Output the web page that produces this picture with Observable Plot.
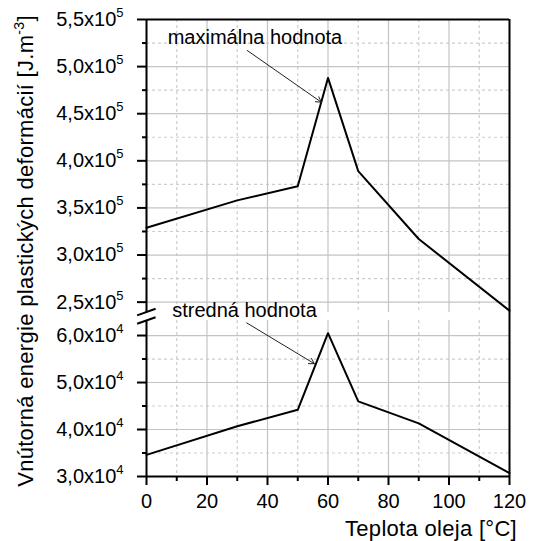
<!DOCTYPE html>
<html><head><meta charset="utf-8">
<script src="https://cdn.jsdelivr.net/npm/d3@7"></script>
<script src="https://cdn.jsdelivr.net/npm/@observablehq/plot@0.6"></script>
<style>
body{margin:0;background:#fff;}
#wrap{position:relative;width:538px;height:541px;font-family:"Liberation Sans",Arial,sans-serif;color:#000;}
.layer{position:absolute;left:0;width:538px;}
.layer svg{position:absolute;left:0;top:0;display:block;}
#ytitle{position:absolute;left:27px;top:251px;transform:translate(-50%,-50%) rotate(-90deg);white-space:nowrap;font-size:22px;line-height:22px;letter-spacing:0.3px;}
#ytitle sup{font-size:14px;vertical-align:0;position:relative;top:-9px;}
#xtitle{position:absolute;right:21px;top:518px;font-size:22px;line-height:22px;letter-spacing:0.3px;white-space:nowrap;}
</style></head>
<body><div id="wrap">
<div class="layer" id="topLayer" style="top:0;height:312px"></div>
<div class="layer" id="botLayer" style="top:312px;height:229px"></div>
<div id="ytitle">Vnútorná energie plastických deformácií [J.m<sup>-3</sup>]</div>
<div id="xtitle">Teplota oleja [°C]</div>
</div>
<script>
// ---- data ----
const temperature = [0, 30, 50, 60, 70, 90, 120];
const maxValue = [3.29e5, 3.58e5, 3.73e5, 4.88e5, 3.89e5, 3.17e5, 2.41e5];
const meanValue = [3.46e4, 4.07e4, 4.42e4, 6.05e4, 4.60e4, 4.13e4, 3.07e4];

const xTicks = [0, 20, 40, 60, 80, 100, 120];
const xTickLabels = ["0", "20", "40", "60", "80", "100", "120"];
const xMinorTicks = [10, 30, 50, 70, 90, 110];

const topTicks = [2.5e5, 3.0e5, 3.5e5, 4.0e5, 4.5e5, 5.0e5, 5.5e5];
const topTickLabels = ["2,5x10^5", "3,0x10^5", "3,5x10^5", "4,0x10^5", "4,5x10^5", "5,0x10^5", "5,5x10^5"];
const topMinorTicks = [2.75e5, 3.25e5, 3.75e5, 4.25e5, 4.75e5, 5.25e5];

const botTicks = [3.0e4, 4.0e4, 5.0e4, 6.0e4];
const botTickLabels = ["3,0x10^4", "4,0x10^4", "5,0x10^4", "6,0x10^4"];
const botMinorTicks = [3.5e4, 4.5e4, 5.5e4];

const maxRows = temperature.map((t, i) => ({t, v: maxValue[i]}));
const meanRows = temperature.map((t, i) => ({t, v: meanValue[i]}));

const FONT = '"Liberation Sans", Arial, sans-serif';
const GRID = "#c4c4c4";
const MINOR = "#cdcdcd";
const DASH = "3,3";
const noLabel = () => "";

const topFrame = {width: 538, height: 312, marginTop: 19, marginBottom: 0, marginLeft: 146, marginRight: 29};
const botFrame = {width: 538, height: 229, marginTop: 8, marginBottom: 65, marginLeft: 146, marginRight: 29};
const topY = {domain: [2.39e5, 5.5e5]};
const botY = {domain: [3.0e4, 6.32e4]};
const svgStyle = {fontFamily: FONT, fontSize: "20px", background: "transparent", overflow: "visible", color: "#000"};

function supify(svg) {
  svg.querySelectorAll("text").forEach(t => {
    const s = t.textContent;
    if (!s.includes("^")) return;
    const [base, exp] = s.split("^");
    t.textContent = "";
    const a = document.createElementNS("http://www.w3.org/2000/svg", "tspan");
    a.textContent = base;
    const b = document.createElementNS("http://www.w3.org/2000/svg", "tspan");
    b.textContent = exp;
    b.setAttribute("font-size", "13px");
    b.setAttribute("dy", "-9");
    t.append(a, b);
  });
}

function gridPlot(frame, y, major, minor) {
  return Plot.plot({
    ...frame, style: svgStyle,
    x: {domain: [0, 120], axis: null},
    y: {...y, axis: null},
    marks: [
      Plot.ruleY(minor, {stroke: MINOR, strokeWidth: 1.2, strokeDasharray: DASH}),
      Plot.ruleX(xMinorTicks, {stroke: MINOR, strokeWidth: 1.2, strokeDasharray: DASH}),
      Plot.ruleY(major, {stroke: GRID, strokeWidth: 1.2}),
      Plot.ruleX(xTicks, {stroke: GRID, strokeWidth: 1.2})
    ]
  });
}

// ---- top panel (maximum) ----
const topGrid = gridPlot(topFrame, topY, topTicks, topMinorTicks);
const topPlot = Plot.plot({
  ...topFrame, style: svgStyle,
  x: {domain: [0, 120], axis: null},
  y: topY,
  marks: [
    Plot.line(maxRows, {x: "t", y: "v", stroke: "#000", strokeWidth: 2}),
    Plot.ruleX([0, 120], {stroke: "#000", strokeWidth: 2}),
    Plot.ruleY([5.5e5], {stroke: "#000", strokeWidth: 2}),
    Plot.axisY(topTicks, {anchor: "left", tickSize: 9, tickPadding: 14, strokeWidth: 2, label: null,
      tickFormat: d => topTickLabels[topTicks.indexOf(d)]}),
    Plot.axisY(topMinorTicks, {anchor: "left", tickSize: 4, strokeWidth: 2, tickFormat: noLabel, label: null}),
    Plot.text(["maximálna hodnota"], {x: 7, y: 5.235e5, textAnchor: "start", lineAnchor: "bottom", fontSize: 20, letterSpacing: 0.2}),
    Plot.arrow([{x1: 33.3, y1: 5.171e5, x2: 57.8, y2: 4.622e5}], {x1: "x1", y1: "y1", x2: "x2", y2: "y2", stroke: "#222", strokeWidth: 1, headLength: 9})
  ]
});
supify(topPlot);

// ---- bottom panel (mean) ----
const botGrid = gridPlot(botFrame, botY, botTicks, botMinorTicks);
const botPlot = Plot.plot({
  ...botFrame, style: svgStyle,
  x: {domain: [0, 120]},
  y: botY,
  marks: [
    Plot.line(meanRows, {x: "t", y: "v", stroke: "#000", strokeWidth: 2}),
    Plot.ruleX([0], {stroke: "#000", strokeWidth: 2}),
    Plot.ruleX([120], {y1: 3.0e4, y2: 6.49e4, stroke: "#000", strokeWidth: 2}),
    Plot.ruleY([3.0e4], {stroke: "#000", strokeWidth: 2}),
    Plot.axisY(botTicks, {anchor: "left", tickSize: 9, tickPadding: 14, strokeWidth: 2, label: null,
      tickFormat: d => botTickLabels[botTicks.indexOf(d)]}),
    Plot.axisY(botMinorTicks, {anchor: "left", tickSize: 4, strokeWidth: 2, tickFormat: noLabel, label: null}),
    Plot.axisX(xTicks, {anchor: "bottom", tickSize: 9, tickPadding: 8, strokeWidth: 2, label: null,
      tickFormat: d => xTickLabels[xTicks.indexOf(d)]}),
    Plot.axisX(xMinorTicks, {anchor: "bottom", tickSize: 5, strokeWidth: 2, tickFormat: noLabel, label: null}),
    // axis break marks
    Plot.link([{x1: -3.1, y1: 6.43e4, x2: 3.0, y2: 6.57e4}, {x1: -3.1, y1: 6.25e4, x2: 3.0, y2: 6.39e4}],
      {x1: "x1", y1: "y1", x2: "x2", y2: "y2", stroke: "#000", strokeWidth: 2}),
    Plot.text(["stredná hodnota"], {x: 8.5, y: 6.39e4, textAnchor: "start", lineAnchor: "bottom", fontSize: 20, letterSpacing: 1.1}),
    Plot.arrow([{x1: 33.1, y1: 6.27e4, x2: 55.5, y2: 5.40e4}], {x1: "x1", y1: "y1", x2: "x2", y2: "y2", stroke: "#222", strokeWidth: 1, headLength: 9})
  ]
});
supify(botPlot);

document.getElementById("topLayer").append(topGrid, topPlot);
document.getElementById("botLayer").append(botGrid, botPlot);
</script>
</body></html>
